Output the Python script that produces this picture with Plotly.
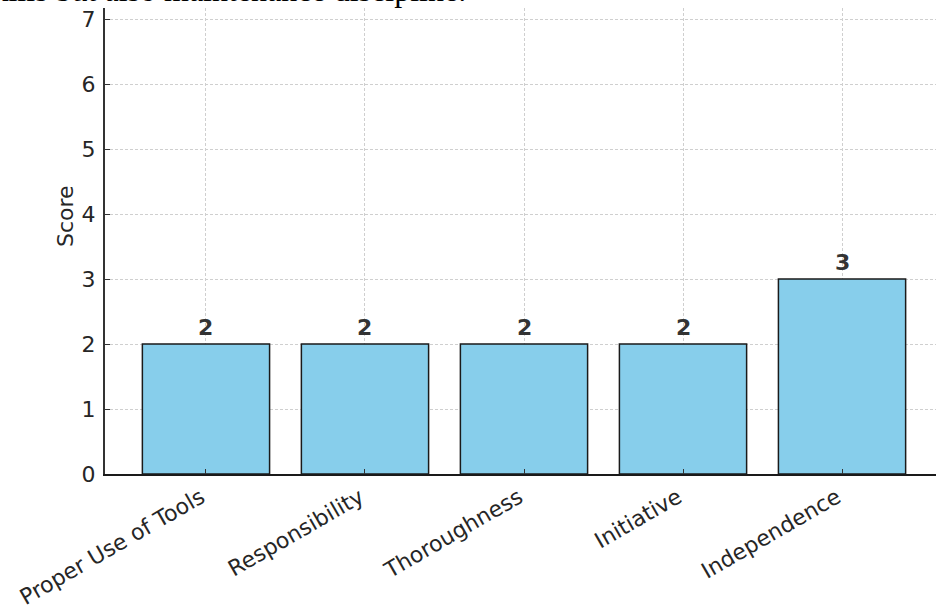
import plotly.graph_objects as go

categories = ["Proper Use of Tools", "Responsibility", "Thoroughness", "Initiative", "Independence"]
scores = [2, 2, 2, 2, 3]
y_ticks = [0, 1, 2, 3, 4, 5, 6, 7]
caption = "skills but also maintenance discipline."
y_title = "Score"

W, H = 936, 608
L, R, T, B = 105, 0, 8, 134
PW, PH = W - L - R, H - T - B
FS = 22

fig = go.Figure()
fig.add_trace(go.Bar(
    x=list(range(len(categories))),
    y=scores,
    width=0.8,
    marker=dict(color="#87CEEB", line=dict(color="#1a1a1a", width=1.5)),
    hoverinfo="skip",
))

for i, v in enumerate(scores):
    fig.add_annotation(
        x=i, y=v, xref="x", yref="y", text=f"<b>{v}</b>",
        showarrow=False, yanchor="bottom", yshift=2,
        font=dict(family="DejaVu Sans", size=FS, color="#333333"),
    )

# cut-off caption text above the chart (page text that sits above the figure)
fig.add_annotation(
    x=(468 - L) / PW, y=1 + (T + 10.5) / PH, xref="paper", yref="paper",
    text=caption, showarrow=False, xanchor="right", yanchor="middle",
    font=dict(family="Liberation Serif", size=32, color="#000000"),
)

# y-axis title (axis in the original extends above the visible crop)
fig.add_annotation(
    x=(65 - L) / PW, y=(H - B - 216) / PH, xref="paper", yref="paper",
    text=y_title, showarrow=False, textangle=-90,
    xanchor="center", yanchor="middle",
    font=dict(family="DejaVu Sans", size=FS, color="#262626"),
)

axis_common = dict(
    ticks="inside", ticklen=5, tickwidth=1.2, tickcolor="#333333",
    showgrid=True, gridcolor="#cfcfcf", griddash="3px,2px", gridwidth=1,
    layer="above traces", zeroline=False, automargin=False,
    tickfont=dict(family="DejaVu Sans", size=FS, color="#262626"),
)

fig.update_layout(
    width=W, height=H,
    margin=dict(l=L, r=R, t=T, b=B, pad=0, autoexpand=False),
    paper_bgcolor="white", plot_bgcolor="white",
    showlegend=False,
    font=dict(family="DejaVu Sans", size=FS, color="#262626"),
    xaxis=dict(
        range=[-0.635, 4.591],
        tickmode="array", tickvals=list(range(len(categories))), ticktext=categories,
        tickangle=-30, ticklabelshift=-5, ticklabelstandoff=0,
        showline=True, linecolor="#1a1a1a", linewidth=2,
        **axis_common,
    ),
    yaxis=dict(
        range=[0, 7.17],
        tickmode="array", tickvals=y_ticks, ticktext=[str(t) for t in y_ticks],
        ticklabelstandoff=3,
        showline=True, linecolor="#333333", linewidth=2,
        **axis_common,
    ),
)

fig.write_html("out.html")
